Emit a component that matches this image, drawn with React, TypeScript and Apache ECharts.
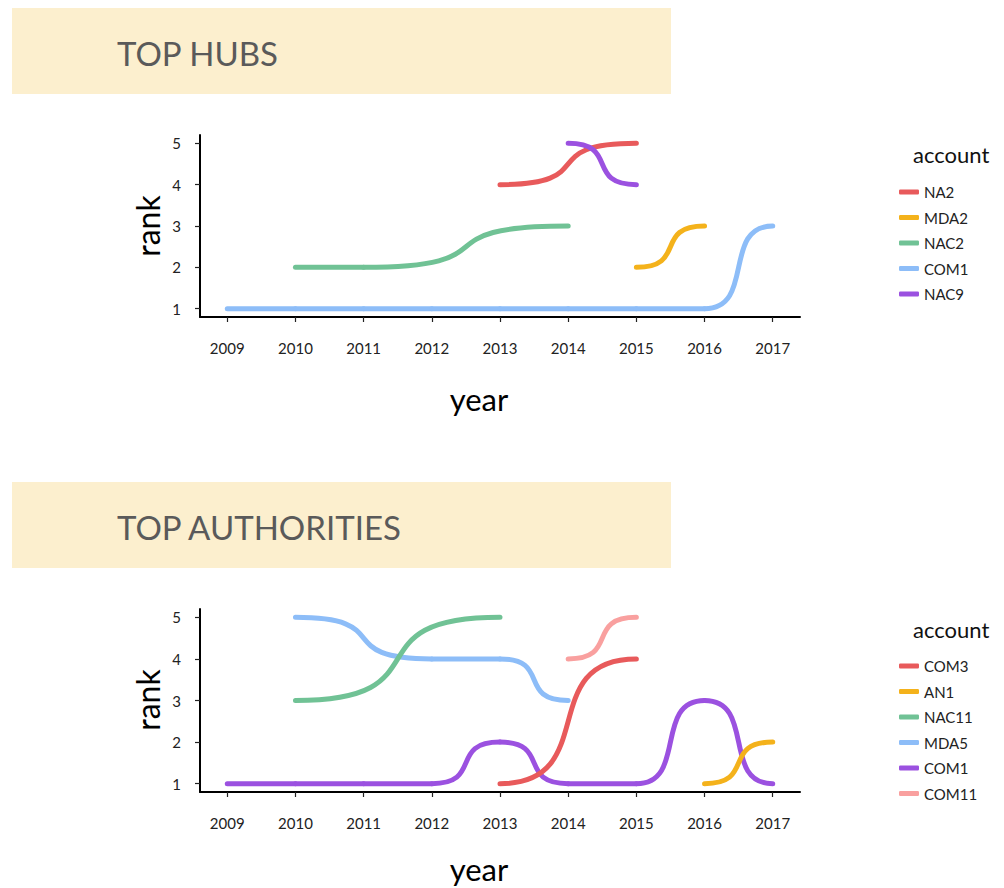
import React, { useEffect, useRef } from 'react';
import * as echarts from 'echarts';

// ---------- data ----------
const YEAR_TICKS = [2009, 2010, 2011, 2012, 2013, 2014, 2015, 2016, 2017];
const RANK_TICKS = [1, 2, 3, 4, 5];

// TOP HUBS
const HUB_NA2_YEARS = [2013, 2015];
const HUB_NA2_RANKS = [4, 5];
const HUB_MDA2_YEARS = [2015, 2016];
const HUB_MDA2_RANKS = [2, 3];
const HUB_NAC2_YEARS = [2010, 2011, 2014];
const HUB_NAC2_RANKS = [2, 2, 3];
const HUB_COM1_YEARS = [2009, 2010, 2011, 2012, 2013, 2014, 2015, 2016, 2017];
const HUB_COM1_RANKS = [1, 1, 1, 1, 1, 1, 1, 1, 3];
const HUB_NAC9_YEARS = [2014, 2015];
const HUB_NAC9_RANKS = [5, 4];

// TOP AUTHORITIES
const AUTH_COM3_YEARS = [2013, 2015];
const AUTH_COM3_RANKS = [1, 4];
const AUTH_AN1_YEARS = [2016, 2017];
const AUTH_AN1_RANKS = [1, 2];
const AUTH_NAC11_YEARS = [2010, 2013];
const AUTH_NAC11_RANKS = [3, 5];
const AUTH_MDA5_YEARS = [2010, 2012, 2013, 2014];
const AUTH_MDA5_RANKS = [5, 4, 4, 3];
const AUTH_COM1_YEARS = [2009, 2010, 2011, 2012, 2013, 2014, 2015, 2016, 2017];
const AUTH_COM1_RANKS = [1, 1, 1, 1, 2, 1, 1, 3, 1];
const AUTH_COM11_YEARS = [2014, 2015];
const AUTH_COM11_RANKS = [4, 5];

const HUB_LEGEND = ['NA2', 'MDA2', 'NAC2', 'COM1', 'NAC9'];
const AUTH_LEGEND = ['COM3', 'AN1', 'NAC11', 'MDA5', 'COM1', 'COM11'];

// ---------- styles ----------
const C_RED = '#E85A5B';
const C_ORANGE = '#F4B21B';
const C_GREEN = '#70C295';
const C_BLUE = '#8DBDF8';
const C_PURPLE = '#9B51E0';
const C_PINK = '#F9A09F';

const FONT = 'Lato, "Open Sans", sans-serif';
const CURVE = 0.75;

type SeriesDef = { name: string; years: number[]; ranks: number[]; color: string };

const HUB_SERIES: SeriesDef[] = [
  { name: 'NA2', years: HUB_NA2_YEARS, ranks: HUB_NA2_RANKS, color: C_RED },
  { name: 'MDA2', years: HUB_MDA2_YEARS, ranks: HUB_MDA2_RANKS, color: C_ORANGE },
  { name: 'NAC2', years: HUB_NAC2_YEARS, ranks: HUB_NAC2_RANKS, color: C_GREEN },
  { name: 'COM1', years: HUB_COM1_YEARS, ranks: HUB_COM1_RANKS, color: C_BLUE },
  { name: 'NAC9', years: HUB_NAC9_YEARS, ranks: HUB_NAC9_RANKS, color: C_PURPLE },
];

// drawing order (later = on top)
const AUTH_SERIES: SeriesDef[] = [
  { name: 'MDA5', years: AUTH_MDA5_YEARS, ranks: AUTH_MDA5_RANKS, color: C_BLUE },
  { name: 'COM1', years: AUTH_COM1_YEARS, ranks: AUTH_COM1_RANKS, color: C_PURPLE },
  { name: 'NAC11', years: AUTH_NAC11_YEARS, ranks: AUTH_NAC11_RANKS, color: C_GREEN },
  { name: 'COM3', years: AUTH_COM3_YEARS, ranks: AUTH_COM3_RANKS, color: C_RED },
  { name: 'AN1', years: AUTH_AN1_YEARS, ranks: AUTH_AN1_RANKS, color: C_ORANGE },
  { name: 'COM11', years: AUTH_COM11_YEARS, ranks: AUTH_COM11_RANKS, color: C_PINK },
];

function segments(years: number[], ranks: number[]) {
  const out: number[][] = [];
  for (let i = 0; i < years.length - 1; i++) {
    out.push([years[i], ranks[i], years[i + 1], ranks[i + 1]]);
  }
  return out;
}

type PanelLayout = {
  title: string;
  bandY: number;
  gridTop: number;
  gridHeight: number;
  rankY: number;
  yearY: number;
  accountY: number;
  legendTop: number;
};

function buildOption(series: SeriesDef[], legendNames: string[], L: PanelLayout): any {
  return {
    animation: false,
    grid: { left: 200, top: L.gridTop, width: 600, height: L.gridHeight, containLabel: false },
    xAxis: {
      type: 'value',
      min: 2008.6,
      max: 2017.4,
      axisLine: { show: true, onZero: false, lineStyle: { color: '#000', width: 2 } },
      axisTick: { show: true, length: 5, customValues: YEAR_TICKS, lineStyle: { color: '#222', width: 1.2 } },
      axisLabel: {
        customValues: YEAR_TICKS,
        margin: 23,
        color: '#222',
        fontFamily: FONT,
        fontSize: 15,
        formatter: (v: number) => String(Math.round(v)),
      },
      splitLine: { show: false },
    },
    yAxis: {
      type: 'value',
      min: 0.8,
      max: 5.2,
      axisLine: { show: true, onZero: false, lineStyle: { color: '#000', width: 2 } },
      axisTick: { show: true, length: 5, customValues: RANK_TICKS, lineStyle: { color: '#222', width: 1.2 } },
      axisLabel: {
        customValues: RANK_TICKS,
        margin: 19,
        color: '#222',
        fontFamily: FONT,
        fontSize: 15,
        formatter: (v: number) => String(Math.round(v)),
      },
      splitLine: { show: false },
    },
    legend: {
      orient: 'vertical',
      left: 894,
      top: L.legendTop,
      icon: 'roundRect',
      itemWidth: 20,
      itemHeight: 5,
      itemGap: 9.5,
      selectedMode: false,
      data: legendNames,
      textStyle: { color: '#222', fontFamily: FONT, fontSize: 15, lineHeight: 16 },
    },
    graphic: [
      {
        type: 'rect',
        shape: { x: 12, y: L.bandY, width: 659, height: 86 },
        style: { fill: '#FCEFCE' },
        silent: true,
      },
      {
        type: 'text',
        x: 117,
        y: L.bandY + 45,
        style: {
          text: L.title,
          fill: '#5A5A5A',
          fontFamily: FONT,
          fontSize: 33,
          textAlign: 'left',
          textVerticalAlign: 'middle',
        },
        silent: true,
      },
      {
        type: 'text',
        x: 147,
        y: L.rankY,
        rotation: Math.PI / 2,
        style: {
          text: 'rank',
          fill: '#000',
          fontFamily: FONT,
          fontSize: 32,
          textAlign: 'center',
          textVerticalAlign: 'middle',
        },
        silent: true,
      },
      {
        type: 'text',
        x: 479,
        y: L.yearY,
        style: {
          text: 'year',
          fill: '#000',
          fontFamily: FONT,
          fontSize: 31,
          textAlign: 'center',
          textVerticalAlign: 'middle',
        },
        silent: true,
      },
      {
        type: 'text',
        x: 913,
        y: L.accountY,
        style: {
          text: 'account',
          fill: '#111',
          fontFamily: FONT,
          fontSize: 22,
          textAlign: 'left',
          textVerticalAlign: 'middle',
        },
        silent: true,
      },
    ],
    series: series.map((s) => ({
      type: 'custom',
      name: s.name,
      coordinateSystem: 'cartesian2d',
      itemStyle: { color: s.color },
      encode: { x: [0, 2], y: [1, 3] },
      data: segments(s.years, s.ranks),
      clip: false,
      renderItem: (_params: any, api: any) => {
        const a = api.coord([api.value(0), api.value(1)]);
        const b = api.coord([api.value(2), api.value(3)]);
        const dx = (b[0] - a[0]) * CURVE;
        return {
          type: 'bezierCurve',
          shape: {
            x1: a[0],
            y1: a[1],
            x2: b[0],
            y2: b[1],
            cpx1: a[0] + dx,
            cpy1: a[1],
            cpx2: b[0] - dx,
            cpy2: b[1],
          },
          style: { stroke: s.color, lineWidth: 5, fill: null, lineCap: 'round' },
          silent: true,
        };
      },
    })),
  };
}

const HUB_LAYOUT: PanelLayout = {
  title: 'TOP HUBS',
  bandY: 8,
  gridTop: 135,
  gridHeight: 182,
  rankY: 226,
  yearY: 399,
  accountY: 154,
  legendTop: 179,
};

// bottom panel container starts at page y = 440
const AUTH_LAYOUT: PanelLayout = {
  title: 'TOP AUTHORITIES',
  bandY: 42,
  gridTop: 169,
  gridHeight: 183,
  rankY: 260,
  yearY: 429,
  accountY: 189,
  legendTop: 213,
};

function Panel(props: { series: SeriesDef[]; legend: string[]; layout: PanelLayout; top: number; height: number }) {
  const ref = useRef<HTMLDivElement>(null);
  useEffect(() => {
    if (!ref.current) return;
    const chart = echarts.init(ref.current, undefined, { renderer: 'svg' });
    chart.setOption(buildOption(props.series, props.legend, props.layout));
    return () => chart.dispose();
  }, []);
  return (
    <div
      ref={ref}
      style={{ position: 'absolute', left: 0, top: props.top, width: 1004, height: props.height }}
    />
  );
}

export default function App() {
  return (
    <div style={{ position: 'absolute', left: 0, top: 0, width: 1004, height: 888, background: '#fff' }}>
      <Panel series={HUB_SERIES} legend={HUB_LEGEND} layout={HUB_LAYOUT} top={0} height={440} />
      <Panel series={AUTH_SERIES} legend={AUTH_LEGEND} layout={AUTH_LAYOUT} top={440} height={448} />
    </div>
  );
}
